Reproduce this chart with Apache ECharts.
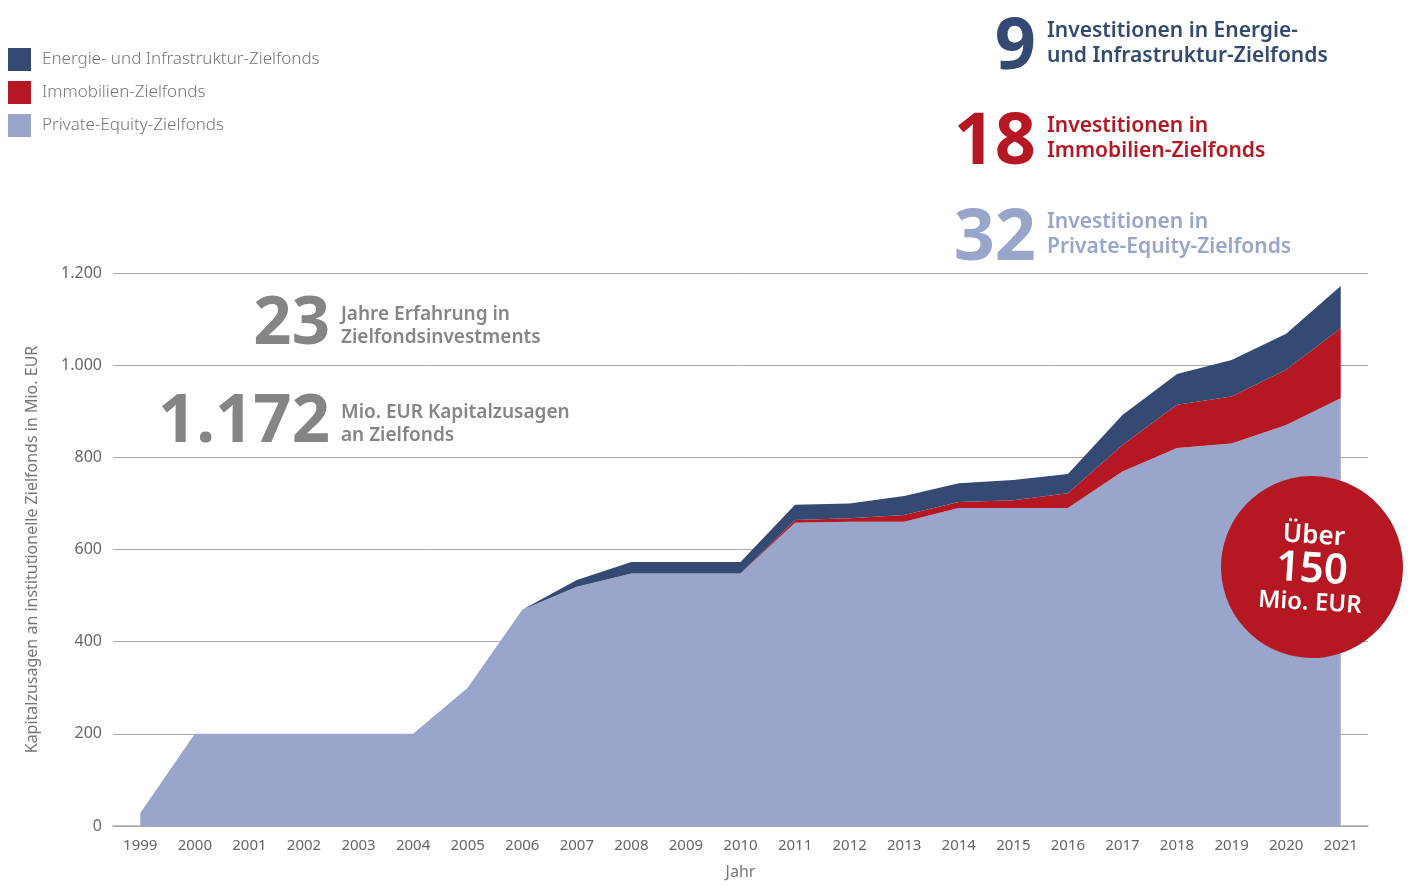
<!DOCTYPE html>
<html>
<head>
<meta charset="utf-8">
<title>Kapitalzusagen an Zielfonds</title>
<script src="https://cdn.jsdelivr.net/npm/echarts@6/dist/echarts.min.js"></script>
<style>
  html, body { margin: 0; padding: 0; background: #fff; }
  #chart { width: 1410px; height: 885px; }
</style>
</head>
<body>
<div id="chart"></div>
<script>
const years = ['1999', '2000', '2001', '2002', '2003', '2004', '2005', '2006', '2007', '2008', '2009',
  '2010', '2011', '2012', '2013', '2014', '2015', '2016', '2017', '2018', '2019', '2020', '2021'];

// stacked from bottom: private equity, real estate, energy/infrastructure (Mio. EUR)
const privateEquity = [28, 200, 200, 200, 200, 200, 300, 469, 519, 548, 548, 548, 658, 660, 660, 690, 690, 690, 769, 820, 830, 870, 928];
const immobilien = [0, 0, 0, 0, 0, 0, 0, 0, 0, 0, 0, 0, 6, 8, 15, 13, 17, 32, 58, 94, 102, 120, 152];
const energie = [0, 0, 0, 0, 0, 0, 0, 0, 15, 25, 25, 25, 33, 32, 41, 41, 44, 42, 65, 67, 79, 78, 92];

const yTicks = [0, 200, 400, 600, 800, 1000, 1200];

const NAVY = '#344a72';
const RED = '#b51823';
const LILAC = '#99a5ca';
const GREY = '#858585';
const FONT = '"Noto Sans", "Open Sans", sans-serif';

const chart = echarts.init(document.getElementById('chart'));

const areaSeries = (name, data, color) => ({
  name: name,
  type: 'line',
  stack: 'total',
  data: data,
  symbol: 'none',
  smooth: false,
  lineStyle: { width: 0 },
  itemStyle: { color: color },
  areaStyle: { color: color, opacity: 1 },
});

// big number + two-line caption, number right aligned at x
const statBlock = (num, lines, x, y, color, numSize, txtSize, numDy) => ([
  {
    type: 'text', x: x, y: y + numDy, z: 100,
    style: { text: num, fill: color, font: 'bold ' + numSize + 'px ' + FONT, align: 'right', verticalAlign: 'middle' },
  },
  {
    type: 'text', x: x + 11, y: y, z: 100,
    style: { text: lines.join('\n'), fill: color, font: '600 ' + txtSize + 'px ' + FONT,
      lineHeight: txtSize + 4, align: 'left', verticalAlign: 'middle' },
  },
]);

const option = {
  animation: false,
  textStyle: { fontFamily: FONT },
  grid: { left: 113, right: 42, top: 273, bottom: 59, outerBoundsMode: 'none' },
  legend: {
    orient: 'vertical', left: 3, top: 43,
    itemWidth: 23, itemHeight: 23, itemGap: 10,
    icon: 'rect',
    data: ['Energie- und Infrastruktur-Zielfonds', 'Immobilien-Zielfonds', 'Private-Equity-Zielfonds'],
    textStyle: { color: '#777', fontSize: 17, fontWeight: 300, padding: [4, 0, 0, 6] },
  },
  xAxis: {
    type: 'category',
    data: years,
    boundaryGap: true,
    name: 'Jahr', nameLocation: 'middle', nameGap: 38,
    nameTextStyle: { color: '#777', fontSize: 16 },
    axisLine: { lineStyle: { color: '#aaa', width: 1.5 } },
    axisTick: { show: false },
    axisLabel: { color: '#666', fontSize: 15, margin: 12 },
  },
  yAxis: {
    type: 'value',
    min: yTicks[0], max: yTicks[yTicks.length - 1], interval: 200,
    name: 'Kapitalzusagen an institutionelle Zielfonds in Mio. EUR',
    nameLocation: 'middle', nameGap: 73,
    nameTextStyle: { color: '#777', fontSize: 16 },
    axisLine: { show: false },
    axisTick: { show: false },
    axisLabel: {
      color: '#666', fontSize: 16, margin: 11,
      formatter: (v) => v.toLocaleString('de-DE'),
    },
    splitLine: { lineStyle: { color: '#aaa', width: 1 } },
  },
  series: [
    areaSeries('Private-Equity-Zielfonds', privateEquity, LILAC),
    areaSeries('Immobilien-Zielfonds', immobilien, RED),
    areaSeries('Energie- und Infrastruktur-Zielfonds', energie, NAVY),
  ],
  graphic: [
    ...statBlock('9', ['Investitionen in Energie-', 'und Infrastruktur-Zielfonds'], 1036, 44, NAVY, 72, 21, 4),
    ...statBlock('18', ['Investitionen in', 'Immobilien-Zielfonds'], 1036, 139, RED, 72, 21, 4),
    ...statBlock('32', ['Investitionen in', 'Private-Equity-Zielfonds'], 1036, 235, LILAC, 72, 21, 4),
    ...statBlock('23', ['Jahre Erfahrung in', 'Zielfondsinvestments'], 330, 326, GREY, 67, 19, -1),
    ...statBlock('1.172', ['Mio. EUR Kapitalzusagen', 'an Zielfonds'], 330, 424, GREY, 67, 19, -1),
    {
      type: 'group', x: 1312, y: 567, rotation: -0.06, z: 100,
      children: [
        { type: 'circle', z: 100, shape: { cx: 0, cy: 0, r: 91 }, style: { fill: RED } },
        { type: 'text', z: 101, x: 0, y: -31, style: { text: 'Über', fill: '#fff', font: '600 26px ' + FONT, align: 'center', verticalAlign: 'middle' } },
        { type: 'text', z: 101, x: 0, y: 3, style: { text: '150', fill: '#fff', font: '600 42px ' + FONT, align: 'center', verticalAlign: 'middle' } },
        { type: 'text', z: 101, x: 0, y: 36, style: { text: 'Mio. EUR', fill: '#fff', font: '600 24px ' + FONT, align: 'center', verticalAlign: 'middle' } },
      ],
    },
  ],
};

chart.setOption(option);
</script>
</body>
</html>
